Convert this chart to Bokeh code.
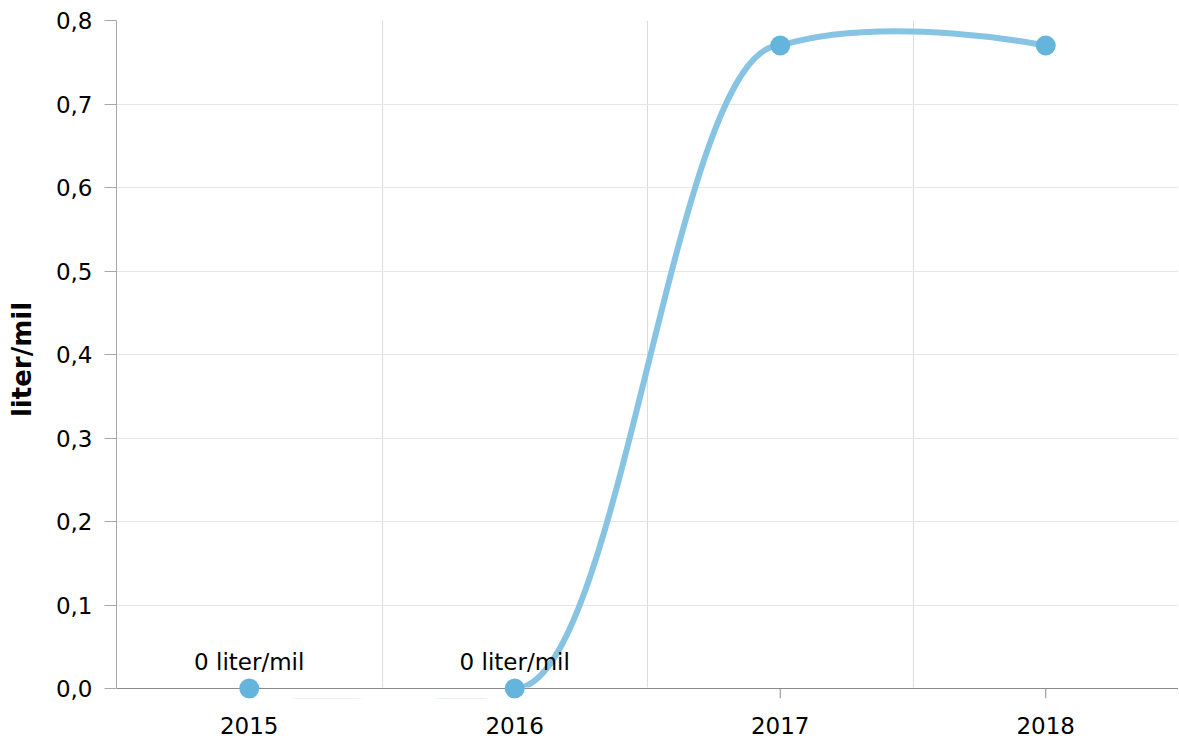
from bokeh.plotting import figure
from bokeh.models import Range1d, FixedTicker, CustomJSTickFormatter
from bokeh.core.properties import value
from bokeh.embed import file_html
from bokeh.resources import INLINE

# ---- data -------------------------------------------------------------
years = ["2015", "2016", "2017", "2018"]
values = [0.0, 0.0, 0.77, 0.77]
point_labels = ["0 liter/mil", "0 liter/mil", "", ""]
y_ticks = [0.0, 0.1, 0.2, 0.3, 0.4, 0.5, 0.6, 0.7, 0.8]
y_title = "liter/mil"

FONT = "DejaVu Sans"
LINE_COLOR = "#87c4e4"
MARKER_COLOR = "#65b4dc"

xs = list(range(len(years)))


def spline_handles(px, py, smoothing=1.5, keep=0.25):
    """Cubic spline handles in the style of a smoothed line series; handles that
    would create a false extreme are levelled, keeping a small part of the swing."""
    n = len(px)
    denom = smoothing + 1.0
    lo = [None] * n
    hi = [None] * n
    for i in range(1, n - 1):
        x, y = px[i], py[i]
        lx, ly = px[i - 1], py[i - 1]
        nx, ny = px[i + 1], py[i + 1]
        lcx, lcy = (smoothing * x + lx) / denom, (smoothing * y + ly) / denom
        rcx, rcy = (smoothing * x + nx) / denom, (smoothing * y + ny) / denom
        corr = (rcy - lcy) * (rcx - x) / (rcx - lcx) + y - rcy
        lcy += corr
        rcy += corr
        if (lcy - ly) * (lcy - y) > 0:
            bound = max(ly, y) if lcy > y else min(ly, y)
            lcy = bound + keep * (lcy - bound)
            rcy = 2 * y - bound
        elif (rcy - ny) * (rcy - y) > 0:
            bound = max(ny, y) if rcy > y else min(ny, y)
            rcy = bound + keep * (rcy - bound)
            lcy = 2 * y - bound
        lo[i] = (lcx, lcy)
        hi[i] = (rcx, rcy)
    seg = dict(x0=[], y0=[], x1=[], y1=[], cx0=[], cy0=[], cx1=[], cy1=[])
    for i in range(n - 1):
        a = (px[i], py[i])
        b = (px[i + 1], py[i + 1])
        c0 = hi[i] if hi[i] else a
        c1 = lo[i + 1] if lo[i + 1] else b
        seg["x0"].append(a[0]); seg["y0"].append(a[1])
        seg["x1"].append(b[0]); seg["y1"].append(b[1])
        seg["cx0"].append(c0[0]); seg["cy0"].append(c0[1])
        seg["cx1"].append(c1[0]); seg["cy1"].append(c1[1])
    return seg


# ---- figure -----------------------------------------------------------
y_top = y_ticks[-1]
frame_px_est = 678.0
band_px = 10.0
y_bottom = -y_top * band_px / (frame_px_est - band_px)

p = figure(width=1178, height=740,
           x_range=Range1d(-0.5, len(years) - 0.5),
           y_range=Range1d(y_bottom, y_top),
           output_backend="svg", toolbar_location=None,
           min_border_left=116, min_border_right=0,
           min_border_top=20, min_border_bottom=42)
p.outline_line_color = None
p.background_fill_color = "white"
p.border_fill_color = "white"

# y axis
p.yaxis.ticker = FixedTicker(ticks=y_ticks)
p.yaxis.formatter = CustomJSTickFormatter(code="return tick.toFixed(1).replace('.', ',');")
p.yaxis.bounds = (y_ticks[0], y_top)
p.yaxis.axis_line_color = "#a8a8a8"
p.yaxis.major_tick_line_color = "#a8a8a8"
p.yaxis.major_tick_out = 12
p.yaxis.major_tick_in = 0
p.yaxis.minor_tick_line_color = None
p.yaxis.major_label_text_font = FONT
p.yaxis.major_label_text_font_size = "23px"
p.yaxis.major_label_text_color = "#000000"
p.yaxis.major_label_standoff = 12
p.yaxis.axis_label = y_title
p.yaxis.axis_label_text_font = FONT
p.yaxis.axis_label_text_font_size = "26px"
p.yaxis.axis_label_text_font_style = "bold"
p.yaxis.axis_label_text_color = "#000000"
p.yaxis.axis_label_standoff = 16

# x axis
p.xaxis.ticker = FixedTicker(ticks=xs)
p.xaxis.major_label_overrides = {i: y for i, y in zip(xs, years)}
p.xaxis.axis_line_color = None
p.xaxis.major_tick_line_color = None
p.xaxis.major_tick_out = 0
p.xaxis.major_tick_in = 0
p.xaxis.minor_tick_line_color = None
p.xaxis.major_label_text_font = FONT
p.xaxis.major_label_text_font_size = "23px"
p.xaxis.major_label_text_color = "#000000"
p.xaxis.major_label_standoff = 18

# grids
p.ygrid.grid_line_color = "#e6e6e6"
p.ygrid.grid_line_width = 1
p.xgrid.ticker = FixedTicker(ticks=[x + 0.5 for x in xs])
p.xgrid.grid_line_color = "#dcdcdc"
p.xgrid.grid_line_width = 1

# smoothed series line
seg = spline_handles(xs, values)
p.bezier(x0=seg["x0"], y0=seg["y0"], x1=seg["x1"], y1=seg["y1"],
         cx0=seg["cx0"], cy0=seg["cy0"], cx1=seg["cx1"], cy1=seg["cy1"],
         line_color=LINE_COLOR, line_width=6, line_cap="round")

# white band below the zero line (the plotting area ends at zero)
p.quad(left=[-1.0], right=[len(years)], bottom=[y_bottom * 4], top=[0.0],
       fill_color="white", line_color="white", line_width=2)

# x axis line and tick marks at zero
p.hspan(y=[0.0], line_color="#8a8a8a", line_width=1)
p.segment(x0=xs, y0=[0.0] * len(xs), x1=xs, y1=[y_bottom] * len(xs),
          line_color="#8a8a8a", line_width=1)

# markers
p.scatter(x=xs, y=values, size=20, fill_color=MARKER_COLOR, line_color=None)

# data labels
p.text(x=xs, y=values, text=point_labels, text_align="center",
       text_baseline="alphabetic", y_offset=-27,
       text_font=value(FONT), text_font_size="23px", text_color="#000000")

open("out.html", "w").write(file_html(p, INLINE))
